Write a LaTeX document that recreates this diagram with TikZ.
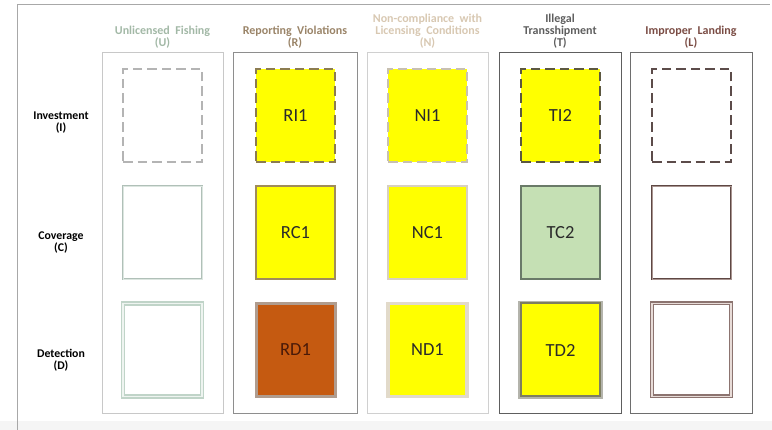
\documentclass[tikz,border=0pt]{standalone}
\usepackage{fontspec}
\setmainfont{Carlito}
\definecolor{frame}{HTML}{A8A8A8}
\definecolor{band}{HTML}{F5F5F5}
\definecolor{cU}{HTML}{C8C8C8}
\definecolor{cR}{HTML}{8E8E8E}
\definecolor{cN}{HTML}{D0D0D0}
\definecolor{cT}{HTML}{5E5E5E}
\definecolor{cL}{HTML}{6E6E6E}
\definecolor{tU}{HTML}{A2B8A6}
\definecolor{tR}{HTML}{9A8468}
\definecolor{tN}{HTML}{D8C8B2}
\definecolor{tT}{HTML}{5E5E5E}
\definecolor{tL}{HTML}{7A4C44}
\definecolor{txt}{HTML}{2A2A2A}
\definecolor{yel}{HTML}{FFFF00}
\definecolor{rust}{HTML}{C55A11}
\definecolor{sage}{HTML}{C5E0B4}
\definecolor{dUI}{HTML}{B4B4B4}
\definecolor{dRI}{HTML}{8C7C50}
\definecolor{dNI}{HTML}{C8C0B0}
\definecolor{dTI}{HTML}{5C5840}
\definecolor{dLI}{HTML}{5C4C4A}
\definecolor{bUC}{HTML}{B0C0B8}
\definecolor{iUC}{HTML}{DCE6E0}
\definecolor{bRC}{HTML}{A08C5A}
\definecolor{bNC}{HTML}{D8D0C0}
\definecolor{bTC}{HTML}{6A7A68}
\definecolor{bLC}{HTML}{5E4844}
\definecolor{iLC}{HTML}{A89490}
\definecolor{bUD}{HTML}{C0D4C8}
\definecolor{iUD}{HTML}{EEF4F0}
\definecolor{bRD}{HTML}{B09C8E}
\definecolor{tRD}{HTML}{4A1A08}
\definecolor{bND}{HTML}{E2DACA}
\definecolor{bTD}{HTML}{7E7E60}
\definecolor{oTD}{HTML}{B4B4AC}
\definecolor{bLD}{HTML}{8C7470}
\definecolor{iLD}{HTML}{E8DCD8}
\begin{document}
\begin{tikzpicture}[x=1pt,y=-1pt,
  colbox/.style={draw=#1,line width=0.9pt},
  sq/.style={minimum width=79pt,minimum height=93pt,inner sep=0pt,
    font=\fontsize{18.5}{20}\selectfont,text=txt},
  dsh/.style={dash pattern=on 9.5pt off 5pt,line width=2pt},
  ttl/.style={font=\bfseries\fontsize{12}{12}\selectfont,align=center,anchor=south,text=#1},
  rowlab/.style={font=\bfseries\fontsize{11.8}{12.5}\selectfont,align=center,text=black}]
\useasboundingbox (0,0) rectangle (772,430);
\fill[band] (0,421) rectangle (772,430);
\draw[frame,line width=1.2pt] (17.5,430) -- (17.5,4.5) -- (770,4.5);

% column boxes
\draw[colbox=cU] (102,52) rectangle (223,413);
\draw[colbox=cR] (233,52) rectangle (357,413);
\draw[colbox=cN] (367,52) rectangle (488,413);
\draw[colbox=cT] (499,52) rectangle (621,413);
\draw[colbox=cL] (630,52) rectangle (752,413);

% column titles
\node[ttl=tU] (hU) at (162.5,51.5) {Unlicensed\ \ Fishing\\(U)};
\node[ttl=tR] (hR) at (295,51.5) {Reporting\ \ Violations\\(R)};
\node[ttl=tN] (hN) at (427.5,51.5) {Non-compliance\ \ with\\Licensing\ \ Conditions\\(N)};
\node[ttl=tT] (hT) at (560,51.5) {Illegal\\Transshipment\\(T)};
\node[ttl=tL] (hL) at (691,51.5) {Improper\ \ Landing\\(L)};

% row labels
\node[rowlab] (rI) at (61,122.5) {Investment\\(I)};
\node[rowlab] (rC) at (61,242.5) {Coverage\\(C)};
\node[rowlab] (rD) at (61,360) {Detection\\(D)};

% row I (dashed)
\node[sq,dsh,draw=dUI] (UI) at (162.5,115.5) {};
\node[sq,dsh,draw=dRI,fill=yel] (RI1) at (295.5,115.5) {RI1};
\node[sq,dsh,draw=dNI,fill=yel] (NI1) at (427.5,115.5) {NI1};
\node[sq,dsh,draw=dTI,fill=yel] (TI2) at (560.5,115.5) {TI2};
\node[sq,dsh,draw=dLI] (LI) at (691.5,115.5) {};

% row C
\node[sq,draw=bUC,line width=0.9pt,double=iUC,double distance=0.9pt] (UC) at (162.5,232.5) {};
\node[sq,draw=bRC,line width=1.6pt,fill=yel] (RC1) at (295.5,232.5) {RC1};
\node[sq,draw=bNC,line width=2.4pt,fill=yel] (NC1) at (427.5,232.5) {NC1};
\node[sq,draw=bTC,line width=2.2pt,fill=sage] (TC2) at (560.5,232.5) {TC2};
\node[sq,draw=bLC,line width=0.9pt,double=iLC,double distance=0.7pt] (LC) at (691.5,232.5) {};

% row D
\node[sq,draw=bUD,line width=1.2pt,double=iUD,double distance=1.8pt] (UD) at (162.5,350) {};
\node[sq,draw=bRD,line width=3pt,fill=rust,text=tRD] (RD1) at (295.5,350) {RD1};
\node[sq,draw=bND,line width=3.2pt,fill=yel] (ND1) at (427.5,350) {ND1};
\node[sq,draw=bTD,line width=2pt,fill=yel,
  preaction={draw=oTD,line width=5.5pt}] (TD2) at (560.5,350) {TD2};
\node[sq,draw=bLD,line width=1.2pt,double=iLD,double distance=1.6pt] (LD) at (691.5,350) {};
\end{tikzpicture}
\end{document}
